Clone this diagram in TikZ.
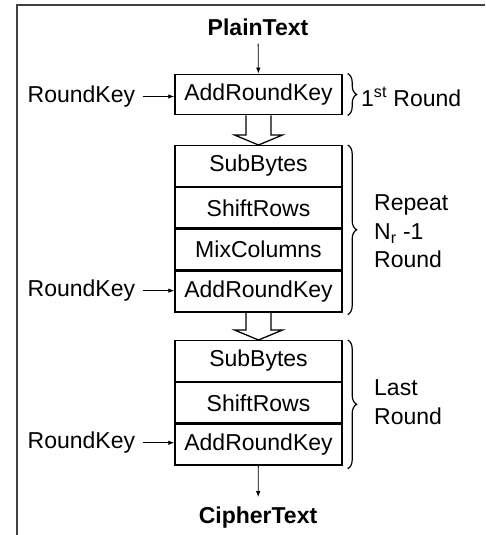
\documentclass[tikz,border=0pt]{standalone}
\usepackage{fontspec}
\setmainfont{Liberation Sans}
\usetikzlibrary{decorations.pathreplacing,arrows.meta,calc}
\begin{document}
\begin{tikzpicture}[x=1pt,y=-1pt,
  every node/.style={font=\fontsize{23}{28.5}\selectfont},
  stage/.style={draw,line width=1.4pt,minimum width=167pt,minimum height=40.5pt,inner sep=0pt},
  keyarrow/.style={-{Latex[length=6pt,width=4.5pt]},line width=0.8pt},
  rbrace/.style={decorate,decoration={brace,amplitude=9pt,aspect=0.5},line width=1.2pt},
  hollow/.style={draw,line width=1.3pt}]
\useasboundingbox (0,0) rectangle (485,535);
\draw[line width=1.8pt,black!75] (17,535) -- (17,5) -- (485,5);

% title
\node[font=\fontsize{23}{28.5}\selectfont\bfseries,inner sep=8pt] (pt) at (258,27) {PlainText};

% first round
\node[stage] (a1) at (258.5,94.5) {AddRoundKey};

% repeated rounds
\node[stage,anchor=north] (s2) at (258.5,145) {SubBytes};
\node[stage,anchor=north] (r2) at (s2.south) {ShiftRows};
\node[stage,anchor=north] (m2) at (r2.south) {MixColumns};
\node[stage,anchor=north] (a2) at (m2.south) {AddRoundKey};

% last round
\node[stage,anchor=north] (s3) at (258.5,340) {SubBytes};
\node[stage,anchor=north] (r3) at (s3.south) {ShiftRows};
\node[stage,anchor=north] (a3) at (r3.south) {AddRoundKey};

\node[font=\fontsize{23}{28.5}\selectfont\bfseries,inner sep=8pt] (ct) at (258,518) {CipherText};

% round keys
\node[anchor=east,inner sep=8pt] (k1) at ($(a1.west)+(-31,2)$) {RoundKey};
\node[anchor=east,inner sep=8pt] (k2) at ($(a2.west)+(-31,-1)$) {RoundKey};
\node[anchor=east,inner sep=8pt] (k3) at ($(a3.west)+(-31,-2)$) {RoundKey};
\draw[keyarrow] (k1.east) -- (k1.east -| a1.west);
\draw[keyarrow] (k2.east) -- (k2.east -| a2.west);
\draw[keyarrow] (k3.east) -- (k3.east -| a3.west);

% plain/cipher arrows
\draw[keyarrow] (pt) -- (a1);
\draw[keyarrow,shorten >=2pt] (a3) -- (ct);

% hollow arrows
\draw[hollow] ($(a1.south)+(-12.5,0)$) -- ($(s2.north)+(-12.5,-10)$) -- ($(s2.north)+(-24,-10)$) -- (s2.north) -- ($(s2.north)+(24,-10)$) -- ($(s2.north)+(12.5,-10)$) -- ($(a1.south)+(12.5,0)$);
\draw[hollow] ($(a2.south)+(-12.5,0)$) -- ($(s3.north)+(-12.5,-10)$) -- ($(s3.north)+(-24,-10)$) -- (s3.north) -- ($(s3.north)+(24,-10)$) -- ($(s3.north)+(12.5,-10)$) -- ($(a2.south)+(12.5,0)$);

% braces
\draw[rbrace] ($(a1.north east)+(5,0)$) -- ($(a1.south east)+(5,0)$);
\draw[rbrace] ($(s2.north east)+(5,0)$) -- ($(a2.south east)+(5,2)$);
\draw[rbrace] ($(s3.north east)+(5,0)$) -- ($(a3.south east)+(5,3)$);

% round labels
\node[anchor=west,inner sep=0pt] (l1) at (361,97) {1\textsuperscript{st} Round};
\node[anchor=west,align=left,inner sep=0pt] (l2) at (374,231.5) {Repeat\\N\textsubscript{r} -1\\Round};
\node[anchor=west,align=left,inner sep=0pt] (l3) at (374,402) {Last\\Round};
\end{tikzpicture}
\end{document}
